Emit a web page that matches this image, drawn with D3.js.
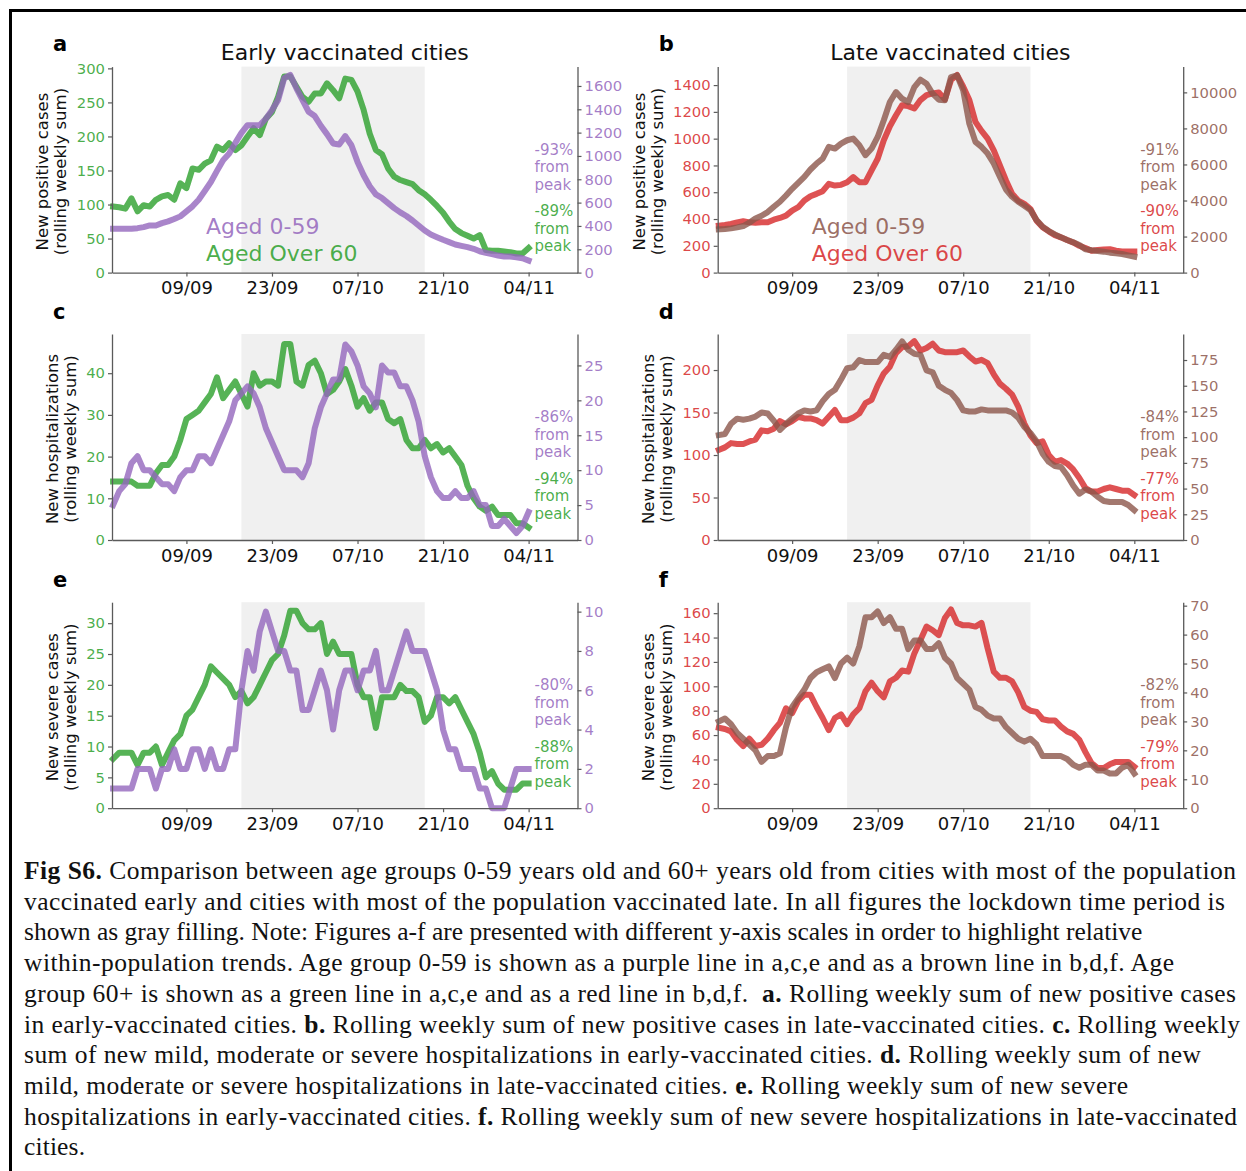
<!DOCTYPE html>
<html><head><meta charset="utf-8">
<script src="https://cdn.jsdelivr.net/npm/d3@7"></script>
<style>body{margin:0;background:#fff}svg{display:block}</style>
</head><body>
<svg id="c" width="1246" height="1171"></svg>
<script>
// ---------- data ----------
const startDate = new Date(Date.UTC(2020, 7, 28));
const endDate = new Date(Date.UTC(2020, 10, 5));
const dates = d3.utcDays(startDate, endDate); // 28/08 .. 04/11 (daily)
const tickDates = [new Date(Date.UTC(2020,8,9)), new Date(Date.UTC(2020,8,23)), new Date(Date.UTC(2020,9,7)), new Date(Date.UTC(2020,9,21)), new Date(Date.UTC(2020,10,4))];
const tickLabels = ["09/09", "23/09", "07/10", "21/10", "04/11"];
const lockdown = [new Date(Date.UTC(2020,8,18)), new Date(Date.UTC(2020,9,18))];

// a: positive cases, early vaccinated
const aOld = [97,96,94,109,90,99,97,107,112,114,107,131,124,153,151,160,165,185,180,190,180,187,200,212,202,226,236,258,288,288,273,258,251,263,263,278,268,256,285,283,266,239,204,180,174,153,141,136,133,130,121,115,107,98,88,75,64,58,54,50,55,33,32,32,31,30,28,28,36];
const aYoung = [376,376,376,376,381,390,404,404,424,439,459,482,525,568,625,700,777,872,963,1021,1112,1198,1264,1264,1264,1319,1393,1479,1666,1694,1580,1479,1379,1342,1259,1187,1107,1098,1170,1092,949,834,740,671,639,596,553,516,485,447,404,361,327,304,281,261,241,229,218,204,183,169,158,146,138,138,132,123,103];
// b: positive cases, late vaccinated
const bOld = [350,355,363,375,383,375,373,375,375,395,408,425,463,488,538,570,588,608,663,650,655,675,713,675,675,763,850,988,1093,1175,1250,1243,1225,1288,1325,1338,1345,1293,1438,1475,1388,1288,1125,1058,1000,913,800,688,588,538,513,475,388,338,308,280,263,243,225,200,183,163,168,173,175,163,158,158,158];
const bYoung = [2399,2417,2454,2509,2583,2768,3007,3155,3358,3653,3930,4280,4649,4982,5314,5720,6052,6328,6974,6882,7159,7343,7435,7066,6513,6882,7528,8450,9465,10018,9649,9465,10295,10701,10480,9926,9594,9557,10849,10941,10111,8266,7251,6974,6605,6052,5314,4613,4207,3930,3709,3469,2915,2546,2306,2122,1956,1808,1679,1531,1292,1236,1199,1162,1107,1070,1033,959,886];
// c: hospitalizations, early vaccinated
const cOld = [14,14,14,14,13,13,13,16,18,18,20,24,29,30,31,33,35,39,34,36,38,35,32,40,37,38,38,37,47,47,38,37,42,43,40,35,36,38,41,37,32,34,31,33,33,29,28,29,24,22,22,24,22,23,21,22,20,18,13,10,8,7,8,6,6,6,4,4,3];
const cYoung = [5,7,8,11,12,10,10,9,8,8,7,9,10,10,12,12,11,13,15,17,20,21,22,21,19,16,14,12,10,10,10,9,11,16,19,21,23,23,28,27,25,22,21,19,25,24,24,22,22,20,17,12,9,7,6,6,7,6,6,7,5,5,2,2,3,2,1,2,4];
// d: hospitalizations, late vaccinated
const dOld = [106,109,114,113,113,116,118,129,128,131,140,136,140,145,143,143,141,137,145,153,141,141,144,149,161,165,182,196,204,220,227,228,234,223,226,231,223,221,221,221,223,216,210,212,208,195,184,178,171,157,137,123,114,116,100,92,94,90,83,73,61,57,57,60,62,60,58,58,53];
const dYoung = [102,103,113,118,117,118,120,124,123,116,107,113,118,123,126,125,126,135,142,146,156,167,168,175,173,173,173,180,178,185,193,185,181,180,165,163,150,146,143,136,126,125,125,127,126,126,126,126,124,119,110,104,96,84,76,72,71,63,53,45,49,47,42,38,37,37,37,34,29];
// e: severe cases, early vaccinated
const eOld = [8,9,9,9,7,9,9,10,7,9,11,12,15,16,18,20,23,22,21,20,18,19,17,18,20,22,24,25,28,32,32,30,29,29,30,25,27,25,25,25,20,18,18,13,18,18,18,20,19,19,18,14,15,18,18,17,18,16,14,12,9,5,6,4,3,3,3,4,4];
const eYoung = [1,1,1,1,2,2,2,1,2,2,3,2,2,3,3,2,3,2,2,3,3,6,8,7,9,10,9,8,8,7,7,5,5,6,7,6,4,6,7,7,6,7,7,8,6,6,7,8,9,8,8,8,7,6,4,3,3,2,2,2,1,1,0,0,0,1,2,2,2];
// f: severe cases, late vaccinated
const fOld = [66,65,63,56,51,57,51,52,57,64,70,82,78,88,93,93,83,74,64,74,77,69,77,82,96,103,96,91,104,107,113,112,127,138,149,146,142,156,163,152,150,150,149,152,131,112,107,107,104,95,83,80,79,73,72,72,67,63,61,56,46,37,33,33,36,38,38,38,34];
const fYoung = [30,31,29,26,24,22,20,16,18,18,19,28,35,38,41,45,47,48,49,45,50,52,50,56,66,66,68,64,66,62,62,55,58,58,55,55,57,52,50,45,43,41,35,34,32,31,31,28,26,24,23,24,22,18,18,18,18,17,15,14,15,15,13,13,12,12,14,15,12];

const aLeftTicks = [0,50,100,150,200,250,300], aRightTicks = [0,200,400,600,800,1000,1200,1400,1600];
const bLeftTicks = [0,200,400,600,800,1000,1200,1400], bRightTicks = [0,2000,4000,6000,8000,10000];
const cLeftTicks = [0,10,20,30,40], cRightTicks = [0,5,10,15,20,25];
const dLeftTicks = [0,50,100,150,200], dRightTicks = [0,25,50,75,100,125,150,175];
const eLeftTicks = [0,5,10,15,20,25,30], eRightTicks = [0,2,4,6,8,10];
const fLeftTicks = [0,20,40,60,80,100,120,140,160], fRightTicks = [0,10,20,30,40,50,60,70];

const pctYoung = ["-93%","-91%","-86%","-84%","-80%","-82%"];
const pctOld = ["-89%","-90%","-94%","-77%","-88%","-79%"];
const titles = ["Early vaccinated cities","Late vaccinated cities"];
const yLabels = [["New positive cases","(rolling weekly sum)"],["New hospitalizations","(rolling weekly sum)"],["New severe cases","(rolling weekly sum)"]];
const legendLabels = ["Aged 0-59","Aged Over 60"];

const COL = {green:"#2ca02c", purple:"#9467bd", red:"#d62728", brown:"#8c564b"};

const panels = [
  {letter:"a", col:0, row:0, old:aOld, young:aYoung, lTop:302.6, rTop:1766, lt:aLeftTicks, rt:aRightTicks, oc:COL.green, yc:COL.purple},
  {letter:"b", col:1, row:0, old:bOld, young:bYoung, lTop:1538, rTop:11430, lt:bLeftTicks, rt:bRightTicks, oc:COL.red, yc:COL.brown},
  {letter:"c", col:0, row:1, old:cOld, young:cYoung, lTop:49.4, rTop:29.5, lt:cLeftTicks, rt:cRightTicks, oc:COL.green, yc:COL.purple},
  {letter:"d", col:1, row:1, old:dOld, young:dYoung, lTop:242.4, rTop:200.3, lt:dLeftTicks, rt:dRightTicks, oc:COL.red, yc:COL.brown},
  {letter:"e", col:0, row:2, old:eOld, young:eYoung, lTop:33.4, rTop:10.48, lt:eLeftTicks, rt:eRightTicks, oc:COL.green, yc:COL.purple},
  {letter:"f", col:1, row:2, old:fOld, young:fYoung, lTop:169, rTop:71.2, lt:fLeftTicks, rt:fRightTicks, oc:COL.red, yc:COL.brown}
];

const caption = [
  [["Fig S6.",1],[" Comparison between age groups 0-59 years old and 60+ years old from cities with most of the population",0]],
  [["vaccinated early and cities with most of the population vaccinated late. In all figures the lockdown time period is",0]],
  [["shown as gray filling. Note: Figures a-f are presented with different y-axis scales in order to highlight relative",0]],
  [["within-population trends. Age group 0-59 is shown as a purple line in a,c,e and as a brown line in b,d,f. Age",0]],
  [["group 60+ is shown as a green line in a,c,e and as a red line in b,d,f.  ",0],["a.",1],[" Rolling weekly sum of new positive cases",0]],
  [["in early-vaccinated cities. ",0],["b.",1],[" Rolling weekly sum of new positive cases in late-vaccinated cities. ",0],["c.",1],[" Rolling weekly",0]],
  [["sum of new mild, moderate or severe hospitalizations in early-vaccinated cities. ",0],["d.",1],[" Rolling weekly sum of new",0]],
  [["mild, moderate or severe hospitalizations in late-vaccinated cities. ",0],["e.",1],[" Rolling weekly sum of new severe",0]],
  [["hospitalizations in early-vaccinated cities. ",0],["f.",1],[" Rolling weekly sum of new severe hospitalizations in late-vaccinated",0]],
  [["cities.",0]]
];
const captionWidths = [1212,1201,1195,1150,1212,1216,1177,1104,1213,61];

// ---------- layout ----------
const svg = d3.select("#c");
const FONT = "DejaVu Sans";
const colL = [112, 717.7], PW = 465.5;
const rowT = [66.6, 334, 602.2], PH = 206;
const SPINE = "#5a5a5a";

svg.append("rect").attr("x",10.5).attr("y",10.5).attr("width",1300).attr("height",1300)
  .attr("fill","none").attr("stroke","#000").attr("stroke-width",3);

panels.forEach((p, idx) => {
  const L = colL[p.col], R = L + PW, T = rowT[p.row], B = T + PH;
  const x = d3.scaleUtc().domain([new Date(Date.UTC(2020,7,27,19,41)), new Date(Date.UTC(2020,10,12))]).range([L, R]);
  const yL = d3.scaleLinear().domain([0, p.lTop]).range([B, T]);
  const yR = d3.scaleLinear().domain([0, p.rTop]).range([B, T]);
  const g = svg.append("g");

  // lockdown shading
  g.append("rect").attr("x", x(lockdown[0])).attr("y", T).attr("width", x(lockdown[1]) - x(lockdown[0])).attr("height", PH).attr("fill", "#f0f0f0");

  const lineL = d3.line().x((d,i) => x(dates[i])).y(d => yL(d));
  const lineR = d3.line().x((d,i) => x(dates[i])).y(d => yR(d));
  g.append("path").attr("d", lineL(p.old)).attr("fill","none").attr("stroke", p.oc).attr("stroke-opacity",0.8)
    .attr("stroke-width",6).attr("stroke-linejoin","round").attr("stroke-linecap","square");
  g.append("path").attr("d", lineR(p.young)).attr("fill","none").attr("stroke", p.yc).attr("stroke-opacity",0.8)
    .attr("stroke-width",6).attr("stroke-linejoin","round").attr("stroke-linecap","square");

  // axes
  const gx = g.append("g").attr("transform", `translate(0,${B})`)
    .call(d3.axisBottom(x).tickValues(tickDates).tickFormat((d,i) => tickLabels[i]).tickSize(4).tickPadding(4.8).tickSizeOuter(0));
  const gl = g.append("g").attr("transform", `translate(${L},0)`)
    .call(d3.axisLeft(yL).tickValues(p.lt).tickFormat(d3.format("d")).tickSize(4).tickPadding(3).tickSizeOuter(0));
  const gr = g.append("g").attr("transform", `translate(${R},0)`)
    .call(d3.axisRight(yR).tickValues(p.rt).tickFormat(d3.format("d")).tickSize(4).tickPadding(3).tickSizeOuter(0));
  [gx, gl, gr].forEach(a => {
    a.attr("font-family", FONT);
    a.select(".domain").attr("stroke", SPINE).attr("stroke-width", 1.3);
    a.selectAll(".tick line").attr("stroke", SPINE).attr("stroke-width", 1.2);
  });
  gx.attr("font-size", 18); gx.selectAll(".tick text").attr("fill", "#111");
  gl.attr("font-size", 14.8); gl.selectAll(".tick text").attr("fill", p.oc).attr("fill-opacity", 0.85);
  gr.attr("font-size", 14.8); gr.selectAll(".tick text").attr("fill", p.yc).attr("fill-opacity", 0.85);

  // y label (two lines, rotated)
  const bb = gl.node().getBBox();
  const edge = L + bb.x;
  const yc = (T + B) / 2 + 2;
  const lab = yLabels[p.row];
  [edge - 10.5 - 18, edge - 10.5].forEach((bx, k) => {
    g.append("text").attr("x", bx).attr("y", yc).attr("transform", `rotate(-90,${bx},${yc})`)
      .attr("text-anchor","middle").attr("font-family",FONT).attr("font-size",16.5).attr("fill","#111").text(lab[k]);
  });

  // panel letter
  g.append("text").attr("x", L - 59).attr("y", T - 15.5).attr("font-family",FONT).attr("font-weight","bold")
    .attr("font-size",21).attr("fill","#000").text(p.letter);

  // title + legend
  if (p.row === 0) {
    g.append("text").attr("x", (L + R) / 2).attr("y", 60).attr("text-anchor","middle").attr("font-family",FONT)
      .attr("font-size",22).attr("fill","#111").text(titles[p.col]);
    g.append("text").attr("x", L + 94).attr("y", 234).attr("font-family",FONT).attr("font-size",22)
      .attr("fill", p.yc).attr("fill-opacity",0.85).text(legendLabels[0]);
    g.append("text").attr("x", L + 94).attr("y", 261).attr("font-family",FONT).attr("font-size",22)
      .attr("fill", p.oc).attr("fill-opacity",0.85).text(legendLabels[1]);
  }

  // % from peak annotations
  const ax = R - 43;
  const offs = [-118, -100.5, -83, -56.5, -39, -21.5];
  const txt = [pctYoung[idx], "from", "peak", pctOld[idx], "from", "peak"];
  txt.forEach((t, k) => {
    g.append("text").attr("x", ax).attr("y", B + offs[k]).attr("font-family",FONT).attr("font-size",15)
      .attr("fill", k < 3 ? p.yc : p.oc).attr("fill-opacity",0.85).text(t);
  });
});

// caption
caption.forEach((segs, i) => {
  const t = svg.append("text").attr("x", 24).attr("y", 879 + i * 30.7)
    .attr("font-family", "'Liberation Serif', 'Times New Roman', serif").attr("font-size", 25.5).attr("fill", "#111")
    .style("white-space", "pre");
  segs.forEach(s => t.append("tspan").attr("font-weight", s[1] ? "bold" : "normal").text(s[0]));
  const nat = t.node().getComputedTextLength();
  const w = captionWidths[i];
  if (Math.abs(nat - w) / w < 0.06) t.attr("textLength", w).attr("lengthAdjust", "spacing");
});
</script>
</body></html>
